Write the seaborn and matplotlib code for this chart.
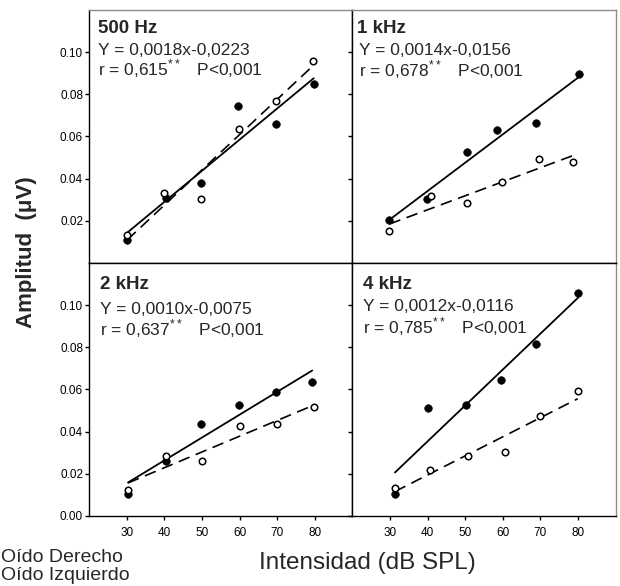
import pandas as pd
import seaborn as sns
import matplotlib.pyplot as plt

# ---- datos ----
paneles = ["500 Hz", "1 kHz", "2 kHz", "4 kHz"]
ecuaciones = ["Y = 0,0018x-0,0223", "Y = 0,0014x-0,0156",
              "Y = 0,0010x-0,0075", "Y = 0,0012x-0,0116"]
r_valores = ["0,615", "0,678", "0,637", "0,785"]
p_valor = "P<0,001"

# Oido derecho (circulos llenos) / Oido izquierdo (circulos vacios)
x_der_500 = [30.0, 40.4, 49.7, 59.5, 69.6, 79.7]
y_der_500 = [0.0110, 0.0310, 0.0380, 0.0743, 0.0660, 0.0850]
x_izq_500 = [30.1, 39.9, 49.7, 59.8, 69.6, 79.4]
y_izq_500 = [0.0133, 0.0330, 0.0305, 0.0634, 0.0767, 0.0960]

x_der_1k = [29.8, 39.8, 50.5, 58.5, 68.7, 80.2]
y_der_1k = [0.0205, 0.0303, 0.0525, 0.0632, 0.0662, 0.0898]
x_izq_1k = [29.8, 40.8, 50.5, 59.9, 69.7, 78.7]
y_izq_1k = [0.0152, 0.0319, 0.0284, 0.0382, 0.0494, 0.0478]

x_der_2k = [30.3, 40.4, 49.7, 59.7, 69.6, 79.3]
y_der_2k = [0.0105, 0.0259, 0.0437, 0.0526, 0.0587, 0.0634]
x_izq_2k = [30.3, 40.4, 49.9, 60.1, 69.8, 79.8]
y_izq_2k = [0.0123, 0.0285, 0.0262, 0.0428, 0.0436, 0.0515]

x_der_4k = [31.3, 40.0, 50.2, 59.5, 68.9, 80.0]
y_der_4k = [0.0105, 0.0510, 0.0525, 0.0644, 0.0815, 0.1057]
x_izq_4k = [31.3, 40.5, 50.7, 60.5, 70.0, 79.9]
y_izq_4k = [0.0134, 0.0218, 0.0285, 0.0302, 0.0475, 0.0595]

x_ticks = [30, 40, 50, 60, 70, 80]

datos = [
    (x_der_500, y_der_500, x_izq_500, y_izq_500),
    (x_der_1k, y_der_1k, x_izq_1k, y_izq_1k),
    (x_der_2k, y_der_2k, x_izq_2k, y_izq_2k),
    (x_der_4k, y_der_4k, x_izq_4k, y_izq_4k),
]

sns.set_theme(style="ticks")
plt.rcParams['font.family'] = ['Liberation Sans', 'DejaVu Sans']
plt.rcParams['mathtext.fontset'] = 'custom'
plt.rcParams['mathtext.rm'] = 'Liberation Sans'

fig, axes = plt.subplots(2, 2, figsize=(6.2, 5.86), dpi=100)
fig.subplots_adjust(left=0.144, right=0.993, top=0.983, bottom=0.1195,
                    wspace=0, hspace=0)

# posiciones del texto de cada panel (fraccion de ejes)
pos_texto = [
    (0.032, 0.909, 0.032, 0.822, 0.740),
    (0.019, 0.909, 0.023, 0.822, 0.736),
    (0.040, 0.897, 0.040, 0.799, 0.712),
    (0.039, 0.897, 0.039, 0.809, 0.722),
]

for i, ax in enumerate(axes.flat):
    xd, yd, xi, yi = datos[i]
    df_der = pd.DataFrame({"x": xd, "y": yd})
    df_izq = pd.DataFrame({"x": xi, "y": yi})

    sns.regplot(data=df_der, x="x", y="y", ax=ax, scatter=False, ci=None,
                line_kws=dict(color="black", lw=1.3, zorder=2))
    sns.regplot(data=df_izq, x="x", y="y", ax=ax, scatter=False, ci=None,
                line_kws=dict(color="black", lw=1.2, ls=(0, (7, 4)), zorder=2))
    sns.scatterplot(data=df_der, x="x", y="y", ax=ax, color="black",
                    edgecolor="black", s=30, zorder=3)
    sns.scatterplot(data=df_izq, x="x", y="y", ax=ax, facecolor="white",
                    edgecolor="black", linewidth=1.1, s=22, zorder=4)

    ax.set_xlim(20, 90)
    ax.set_ylim(0, 0.12)
    ax.set_xticks(x_ticks)
    fila, col = divmod(i, 2)
    if fila == 0:
        ax.set_yticks([0.02, 0.04, 0.06, 0.08, 0.10])
        ax.set_xticklabels([])
    else:
        ax.set_yticks([0.00, 0.02, 0.04, 0.06, 0.08, 0.10])
        ax.set_xticklabels([str(t) for t in x_ticks])
    if col == 0:
        ax.set_yticklabels([f"{t:.2f}" for t in ax.get_yticks()])
    else:
        ax.set_yticklabels([])
    ax.set_xlabel("")
    ax.set_ylabel("")
    ax.tick_params(direction="out", length=3, width=1, labelsize=8.5,
                   pad=1.5, colors="black")
    ax.tick_params(axis="x", pad=5)

    for lado in ["left", "bottom", "top", "right"]:
        ax.spines[lado].set_visible(True)
        ax.spines[lado].set_color("black")
        ax.spines[lado].set_linewidth(1.0)
    if fila == 0:
        ax.spines["top"].set_color("#8c8c8c")
    if col == 1:
        ax.spines["right"].set_color("#8c8c8c")

    tx, ty, ex, ey1, ey2 = pos_texto[i]
    ax.text(tx, ty, paneles[i], transform=ax.transAxes, fontsize=13.5,
            fontweight="bold", va="baseline", ha="left")
    ax.text(ex, ey1, ecuaciones[i], transform=ax.transAxes, fontsize=12.5,
            va="baseline", ha="left")
    ax.text(ex, ey2, f"r = {r_valores[i]}$^{{**}}$   {p_valor}",
            transform=ax.transAxes, fontsize=12.5, va="baseline", ha="left")

fig.text(0.042, 0.57, "Amplitud  (μV)", rotation=90, fontsize=16,
         fontweight="bold", ha="center", va="center")
fig.text(0.592, 0.040, "Intensidad (dB SPL)", fontsize=17.5,
         ha="center", va="center")
fig.text(0.002, 0.041, "Oído Derecho", fontsize=14, ha="left", va="baseline")
fig.text(0.002, 0.010, "Oído Izquierdo", fontsize=14, ha="left", va="baseline")

fig.savefig("out.png", dpi=100)
